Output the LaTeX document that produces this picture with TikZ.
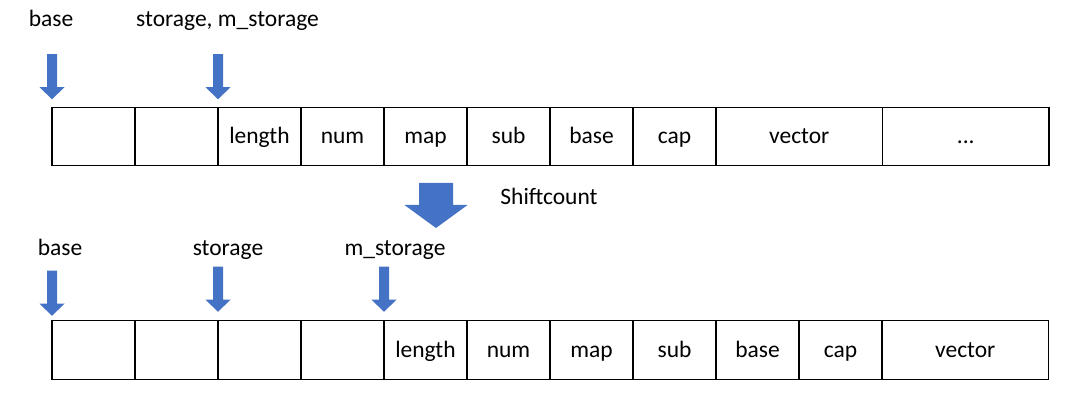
\documentclass[tikz,border=0pt]{standalone}
\usepackage{fontspec}
\setmainfont{Carlito}
\usepackage{xcolor}
\usepackage{tikz}
\usetikzlibrary{positioning}

\definecolor{ptrblue}{HTML}{4472C4}

\begin{document}
\begin{tikzpicture}[x=1pt,y=1pt,node distance=0pt,
font=\fontsize{23.5pt}{28pt}\selectfont,
cell/.style={draw,line width=1.2pt,outer sep=0pt,inner sep=0pt,minimum width=83pt,minimum height=58.5pt,text height=16pt,text depth=1pt},
wide/.style={cell,minimum width=166.5pt},
lbl/.style={anchor=base,inner sep=0pt},
ptr/.pic={\fill[ptrblue] (-5,45)--(-5,12)--(-12.5,12)--(0,0)--(12.5,12)--(5,12)--(5,45)--cycle;},
shiftptr/.pic={\fill[ptrblue] (-17,45)--(-17,23)--(-31.5,23)--(0,0)--(31.5,23)--(17,23)--(17,45)--cycle;}]
\useasboundingbox (0,0) rectangle (1078,415);

% memory before the shift
\node[cell,anchor=west] (t1) at (52,278.5) {};
\node[cell,right=of t1] (t2) {};
\node[cell,right=of t2] (t3) {length};
\node[cell,right=of t3] (t4) {num};
\node[cell,right=of t4] (t5) {map};
\node[cell,right=of t5] (t6) {sub};
\node[cell,right=of t6] (t7) {base};
\node[cell,right=of t7] (t8) {cap};
\node[wide,right=of t8] (t9) {vector};
\node[wide,right=of t9] (t10) {...};

\pic at ([yshift=8pt]t1.north west) {ptr};
\pic at ([yshift=8pt]t3.north west) {ptr};
\node[lbl] (tbase) at (51,388) {base};
\node[lbl] (tstor) at (227.5,388) {storage, m\_storage};

% shift
\pic at (436,187) {shiftptr};
\node[lbl] (shift) at (549,210) {Shiftcount};

% memory after the shift
\node[cell,anchor=west] (b1) at (52,65) {};
\node[cell,right=of b1] (b2) {};
\node[cell,right=of b2] (b3) {};
\node[cell,right=of b3] (b4) {};
\node[cell,right=of b4] (b5) {length};
\node[cell,right=of b5] (b6) {num};
\node[cell,right=of b6] (b7) {map};
\node[cell,right=of b7] (b8) {sub};
\node[cell,right=of b8] (b9) {base};
\node[cell,right=of b9] (b10) {cap};
\node[wide,right=of b10] (b11) {vector};

\pic at ([yshift=5pt]b1.north west) {ptr};
\pic at ([yshift=9pt]b3.north west) {ptr};
\pic at ([yshift=9pt]b5.north west) {ptr};
\node[lbl] (bbase) at (60,159) {base};
\node[lbl] (bstor) at (228,159) {storage};
\node[lbl] (bmstor) at (395,159) {m\_storage};
\end{tikzpicture}
\end{document}
